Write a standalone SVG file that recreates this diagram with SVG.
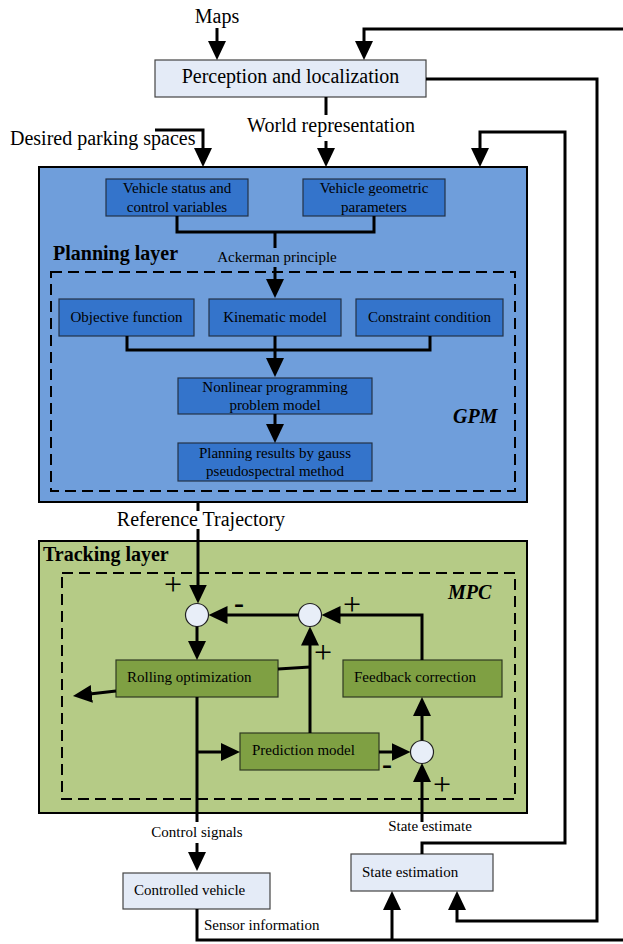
<svg xmlns="http://www.w3.org/2000/svg" width="623" height="944" viewBox="0 0 623 944">
  <defs>
    <marker id="ah" markerUnits="userSpaceOnUse" markerWidth="20" markerHeight="20" refX="11" refY="9" orient="auto">
      <path d="M0,0 L19,9 L0,18 Z" fill="#000"/>
    </marker>
    <style>
      text { font-family: "Liberation Serif", "Times New Roman", serif; fill: #000; }
      .big { font-size: 20px; }
      .sm { font-size: 15px; }
      .bold { font-size: 20px; font-weight: bold; }
      .bi { font-size: 20px; font-weight: bold; font-style: italic; }
      .sign { font-size: 32px; }
      .minus { font-size: 30px; font-weight: bold; }
      .mid { text-anchor: middle; }
      .layer { stroke: #000; stroke-width: 2; }
      .plan { fill: #6f9edb; }
      .track { fill: #b5cb86; }
      .dash { fill: none; stroke: #000; stroke-width: 2; stroke-dasharray: 11 6; }
      .bbox { fill: #3474cb; stroke: #233246; stroke-width: 1.2; }
      .gbox { fill: #7fa043; stroke: #2f3a22; stroke-width: 1.2; }
      .lbox { fill: #e4ebf7; stroke: #444; stroke-width: 1.2; }
      .sum { fill: #e8eef8; stroke: #222; stroke-width: 1.2; }
      .c { fill: none; stroke: #000; stroke-width: 3; }
      .a { marker-end: url(#ah); }
    </style>
  </defs>

  <!-- layer containers -->
  <g id="planning-layer">
    <rect class="layer plan" x="39" y="167" width="488" height="335"/>
    <text class="bold" x="53" y="260">Planning layer</text>
    <rect class="dash" x="51" y="272" width="464" height="219"/>
    <text class="bi" x="453" y="423">GPM</text>
  </g>
  <g id="tracking-layer">
    <rect class="layer track" x="39" y="541" width="488" height="272"/>
    <text class="bold" x="43" y="561">Tracking layer</text>
    <rect class="dash" x="62" y="573" width="453" height="226"/>
    <text class="bi" x="448" y="599">MPC</text>
  </g>

  <!-- free labels -->
  <g id="labels">
    <text class="big mid" x="217" y="23">Maps</text>
    <text class="big mid" x="331" y="132">World representation</text>
    <text class="big" x="10" y="145">Desired parking spaces</text>
    <text class="sm mid" x="277" y="262">Ackerman principle</text>
    <text class="big mid" x="201" y="526">Reference Trajectory</text>
    <text class="sm mid" x="197" y="837">Control signals</text>
    <text class="sm mid" x="430" y="831">State estimate</text>
    <text class="sm" x="204" y="930">Sensor information</text>
    <text class="sign mid" x="173" y="595">+</text>
    <text class="sign mid" x="352" y="615">+</text>
    <text class="sign mid" x="323" y="663">+</text>
    <text class="sign mid" x="442" y="795">+</text>
    <text class="minus mid" x="239" y="613">-</text>
    <text class="minus mid" x="387" y="774">-</text>
  </g>

  <!-- nodes -->
  <g id="perception">
    <rect class="lbox" x="155" y="60" width="271" height="37"/>
    <text class="big mid" x="290.5" y="83">Perception and localization</text>
  </g>
  <g id="vehicle-status">
    <rect class="bbox" x="106" y="179" width="142" height="37"/>
    <text class="sm mid" x="177" y="193">Vehicle status and</text>
    <text class="sm mid" x="177" y="212">control variables</text>
  </g>
  <g id="vehicle-geometric">
    <rect class="bbox" x="303" y="179" width="142" height="37"/>
    <text class="sm mid" x="374" y="193">Vehicle geometric</text>
    <text class="sm mid" x="374" y="212">parameters</text>
  </g>
  <g id="objective-function">
    <rect class="bbox" x="59" y="299" width="135" height="37"/>
    <text class="sm mid" x="126.5" y="322">Objective function</text>
  </g>
  <g id="kinematic-model">
    <rect class="bbox" x="209" y="299" width="132" height="37"/>
    <text class="sm mid" x="275" y="322">Kinematic model</text>
  </g>
  <g id="constraint-condition">
    <rect class="bbox" x="356" y="299" width="147" height="37"/>
    <text class="sm mid" x="429.5" y="322">Constraint condition</text>
  </g>
  <g id="nlp-model">
    <rect class="bbox" x="178" y="378" width="194" height="36"/>
    <text class="sm mid" x="275" y="392">Nonlinear programming</text>
    <text class="sm mid" x="275" y="410">problem model</text>
  </g>
  <g id="gpm-results">
    <rect class="bbox" x="178" y="443" width="194" height="38"/>
    <text class="sm mid" x="275" y="458">Planning results by gauss</text>
    <text class="sm mid" x="275" y="476">pseudospectral method</text>
  </g>
  <g id="sum-reference">
    <circle class="sum" cx="197" cy="615" r="11.5"/>
  </g>
  <g id="sum-prediction">
    <circle class="sum" cx="310" cy="615" r="11.5"/>
  </g>
  <g id="rolling-optimization">
    <rect class="gbox" x="116" y="660" width="162" height="37"/>
    <text class="sm" x="127" y="682">Rolling optimization</text>
  </g>
  <g id="feedback-correction">
    <rect class="gbox" x="343" y="660" width="159" height="37"/>
    <text class="sm" x="354" y="682">Feedback correction</text>
  </g>
  <g id="prediction-model">
    <rect class="gbox" x="240" y="733" width="139" height="37"/>
    <text class="sm" x="252" y="755">Prediction model</text>
  </g>
  <g id="sum-error">
    <circle class="sum" cx="422" cy="752" r="11.5"/>
  </g>
  <g id="controlled-vehicle">
    <rect class="lbox" x="123" y="873" width="147" height="36"/>
    <text class="sm" x="134" y="895">Controlled vehicle</text>
  </g>
  <g id="state-estimation">
    <rect class="lbox" x="351" y="854" width="142" height="37"/>
    <text class="sm" x="362" y="877">State estimation</text>
  </g>

  <!-- connectors -->
  <g id="connectors">
    <path class="c a" d="M217,28 V52"/>
    <path class="c a" d="M623,29 H364 V52"/>
    <path class="c a" d="M426,79 H597 V921 H457 V899"/>
    <path class="c" d="M326,97 V115"/>
    <path class="c a" d="M326,141 V159"/>
    <path class="c a" d="M155,130 H203 V159"/>
    <path class="c a" d="M422,854 V843 H565 V132 H480 V159"/>
    <path class="c a" d="M422,822 V771"/>
    <path class="c" d="M177,216 V232 H374 V216"/>
    <path class="c" d="M275,232 V248"/>
    <path class="c a" d="M275,267 V290"/>
    <path class="c" d="M127,336 V350 H430 V336"/>
    <path class="c a" d="M275,336 V369"/>
    <path class="c a" d="M275,414 V435"/>
    <path class="c" d="M198,502 V511"/>
    <path class="c a" d="M198,529 V595.5"/>
    <path class="c a" d="M197,626.5 V652"/>
    <path class="c a" d="M298.5,615 H216.5"/>
    <path class="c a" d="M422,660 V615 H329.5"/>
    <path class="c a" d="M310,733 V634.5"/>
    <path class="c" d="M278,669 L310,667"/>
    <path class="c a" d="M116,691 L80.9,695.1"/>
    <path class="c" d="M197,697 V822"/>
    <path class="c a" d="M197,843 V863"/>
    <path class="c a" d="M197,752 H232"/>
    <path class="c a" d="M379,752 H402.5"/>
    <path class="c a" d="M422,740.5 V705"/>
    <path class="c" d="M197,909 V940 H623"/>
    <path class="c a" d="M392,940 V899"/>
  </g>
</svg>
